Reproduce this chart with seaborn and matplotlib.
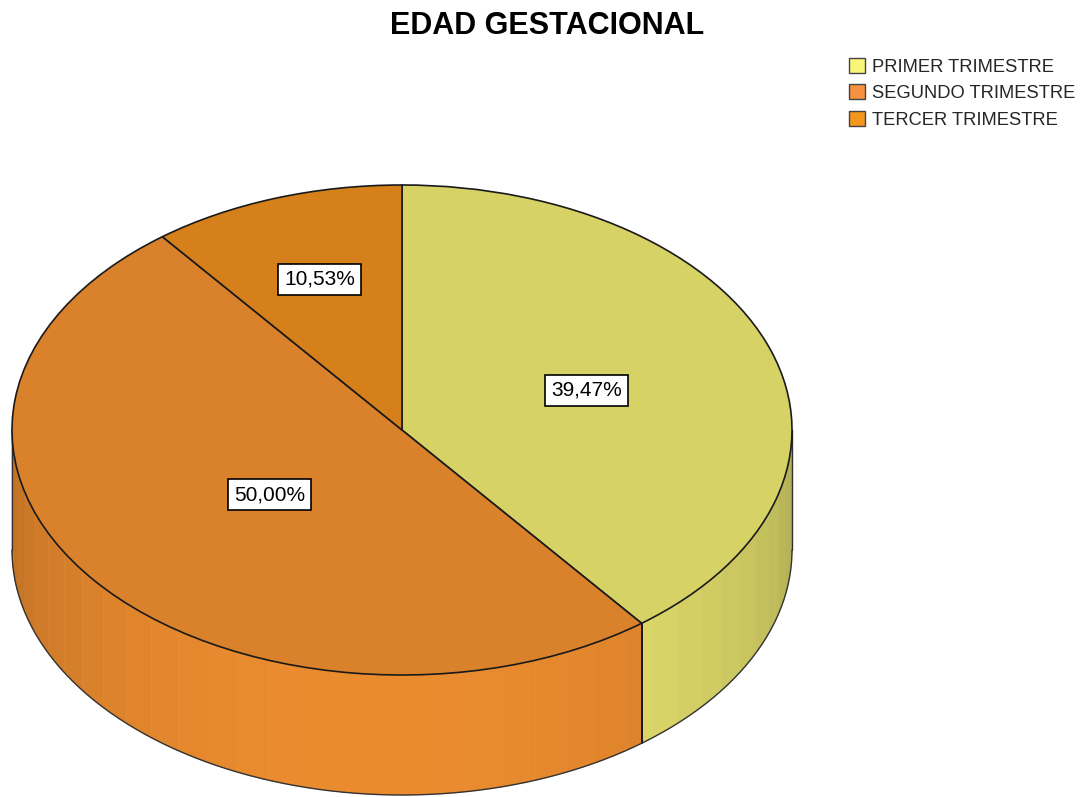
import numpy as np
import matplotlib
matplotlib.use("Agg")
import matplotlib.pyplot as plt
import seaborn as sns
from matplotlib.patches import Patch, Polygon
from matplotlib.colors import to_rgb

# data
categories = ["PRIMER TRIMESTRE", "SEGUNDO TRIMESTRE", "TERCER TRIMESTRE"]
percentages = [39.47, 50.00, 10.53]
pct_labels = ["39,47%", "50,00%", "10,53%"]

sns.set_theme(style="white")
plt.rcParams['font.family'] = ['Liberation Sans', 'DejaVu Sans']

top_colors = sns.color_palette(["#D6D266", "#D9812B", "#D5801A"])
legend_colors = sns.color_palette(["#F8F577", "#F5913F", "#F5961F"])

W, H = 1088, 797
cx, cy = 402, 430        # pixel centre of the top ellipse
a, b = 390, 245          # half axes in pixels
depth = 120 / b          # cylinder height in data units

fig = plt.figure(figsize=(W / 100, H / 100), dpi=100)
ax = fig.add_axes([0, 0, 1, 1])

# --- side wall (front half, t from -180 to 0) ---
def shade(t):
    t = t % 360
    d = np.clip((t - 265) * 90 / 95, -90, 90)
    return 0.82 + 0.26 * np.cos(np.radians(d))

wedges, _ = ax.pie(percentages, startangle=90, counterclock=False, colors=top_colors,
                   radius=1, center=(0, 0),
                   wedgeprops=dict(edgecolor='#1a1a1a', linewidth=1.2, zorder=5))

step = 5
for i, w in enumerate(wedges):
    th1, th2 = w.theta1, w.theta2
    for k in range(-2, 2):
        lo = max(th1, -180 + 360 * k)
        hi = min(th2, 360 * k)
        if hi <= lo:
            continue
        lo, hi = lo - 360 * k, hi - 360 * k
        edges = [lo] + [e for e in np.arange(-180, 0, step) if lo < e < hi] + [hi]
        for t0, t1 in zip(edges[:-1], edges[1:]):
            t = np.radians(np.linspace(t0, t1, 12))
            xs, ys = np.cos(t), np.sin(t)
            pts = np.column_stack([np.r_[xs, xs[::-1]], np.r_[ys, ys[::-1] - depth]])
            col = np.clip(np.array(to_rgb(top_colors[i])) * shade((t0 + t1) / 2), 0, 1)
            ax.add_patch(Polygon(pts, closed=True, facecolor=col, edgecolor=col,
                                 linewidth=0.4, zorder=2))

# slice boundaries on the front wall
for w in wedges:
    for th in (w.theta1, w.theta2):
        tt = th % 360
        if 180 < tt < 360:
            x0, y0 = np.cos(np.radians(tt)), np.sin(np.radians(tt))
            ax.plot([x0, x0], [y0, y0 - depth], color='#1a1a1a', lw=1.4, zorder=4)

# outline of the cylinder
tb = np.radians(np.linspace(-180, 0, 200))
ax.plot(np.cos(tb), np.sin(tb) - depth, color='#333333', lw=1.0, zorder=4)
ax.plot([-1, -1], [0, -depth], color='#333333', lw=1.0, zorder=4)
ax.plot([1, 1], [0, -depth], color='#333333', lw=1.0, zorder=4)

# percentage labels
dist = [0.50, 0.43, 0.65]
for w, lab, r in zip(wedges, pct_labels, dist):
    mid = np.radians((w.theta1 + w.theta2) / 2)
    ax.text(r * np.cos(mid), r * np.sin(mid), lab, ha='center', va='center',
            fontsize=15, color='black', zorder=6,
            bbox=dict(boxstyle='square,pad=0.28', facecolor='white',
                      edgecolor='black', linewidth=1.2))

ax.set_aspect('auto')
ax.set_xlim(-cx / a, (W - cx) / a)
ax.set_ylim(-(H - cy) / b, cy / b)
ax.axis('off')

fig.text(547 / W, 1 - 26 / H, "EDAD GESTACIONAL", ha='center', va='center',
         fontsize=22, fontweight='bold', color='black')

handles = [Patch(facecolor=c, edgecolor='#444444', linewidth=1.0) for c in legend_colors]
fig.legend(handles, categories, loc='upper left', bbox_to_anchor=(849 / W, 1 - 58 / H),
           frameon=False, fontsize=13.2, handlelength=0.85, handleheight=0.85,
           handletextpad=0.4, labelspacing=0.48, borderpad=0, borderaxespad=0)

fig.savefig("out.png", dpi=100, facecolor='white')
